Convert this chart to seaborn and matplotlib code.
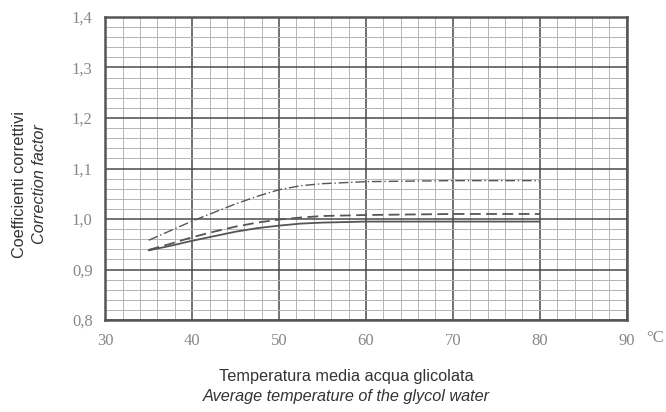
import matplotlib
matplotlib.use("Agg")
import matplotlib.pyplot as plt
import seaborn as sns
import pandas as pd
from matplotlib.ticker import MultipleLocator, FixedLocator

# Data
temperature = [35, 37.5, 40, 42.5, 45, 47.5, 50, 52.5, 55, 60, 70, 80]
dashdot_values = [0.958, 0.977, 0.996, 1.013, 1.030, 1.045, 1.058, 1.066, 1.070, 1.074, 1.076, 1.076]
dashed_values = [0.939, 0.951, 0.964, 0.975, 0.985, 0.993, 0.999, 1.003, 1.006, 1.008, 1.010, 1.010]
solid_values = [0.938, 0.947, 0.957, 0.966, 0.975, 0.982, 0.987, 0.991, 0.993, 0.995, 0.995, 0.995]

x_ticks = [30, 40, 50, 60, 70, 80, 90]
x_tick_labels = ["30", "40", "50", "60", "70", "80", "90"]
y_ticks = [0.8, 0.9, 1.0, 1.1, 1.2, 1.3, 1.4]
y_tick_labels = ["0,8", "0,9", "1,0", "1,1", "1,2", "1,3", "1,4"]

sns.set_style("white")
plt.rcParams['font.family'] = ['Liberation Sans', 'DejaVu Sans']

fig = plt.figure(figsize=(6.66, 4.12), dpi=100)
ax = fig.add_axes([0.158, 0.223, 0.783, 0.736])

line_color = "#555555"
sns.lineplot(x=temperature, y=dashdot_values, ax=ax, color=line_color, lw=1.0,
             linestyle=(0, (7, 2, 1, 2)))
sns.lineplot(x=temperature, y=dashed_values, ax=ax, color=line_color, lw=1.3,
             linestyle=(0, (6, 3)))
sns.lineplot(x=temperature, y=solid_values, ax=ax, color=line_color, lw=1.3,
             linestyle="-")

ax.set_xlim(30, 90)
ax.set_ylim(0.8, 1.4)
ax.xaxis.set_major_locator(FixedLocator(x_ticks))
ax.yaxis.set_major_locator(FixedLocator(y_ticks))
ax.xaxis.set_minor_locator(MultipleLocator(2))
ax.yaxis.set_minor_locator(MultipleLocator(0.02))
ax.set_xticklabels(x_tick_labels)
ax.set_yticklabels(y_tick_labels)

ax.grid(which="minor", color="#b5b5b5", lw=0.7)
ax.grid(which="major", color="#4a4a4a", lw=1.1)
ax.set_axisbelow(True)
for s in ax.spines.values():
    s.set_color("#555555")
    s.set_linewidth(1.8)

ax.tick_params(which="major", length=3, width=1, color="#555555",
               labelcolor="#888888", labelsize=12, pad=6)
ax.tick_params(which="minor", length=0)
for lab in ax.get_xticklabels() + ax.get_yticklabels():
    lab.set_family(["Liberation Serif", "DejaVu Serif"])

ax.set_xlabel("")
ax.set_ylabel("")

fig.text(0.983, 0.180, "°C", ha="center", va="center", color="#888888",
         fontsize=12, family=["Liberation Serif", "DejaVu Serif"])

fig.text(0.52, 0.087, "Temperatura media acqua glicolata", ha="center",
         va="center", fontsize=11.7, color="#333333")
fig.text(0.52, 0.038, "Average temperature of the glycol water", ha="center",
         va="center", fontsize=11.7, color="#333333", style="italic")

fig.text(0.030, 0.553, "Coefficienti correttivi", ha="center", va="center",
         rotation=90, fontsize=11.7, color="#333333")
fig.text(0.060, 0.553, "Correction factor", ha="center", va="center",
         rotation=90, fontsize=11.7, color="#333333", style="italic")

fig.savefig("out.png", dpi=100, facecolor="white")
